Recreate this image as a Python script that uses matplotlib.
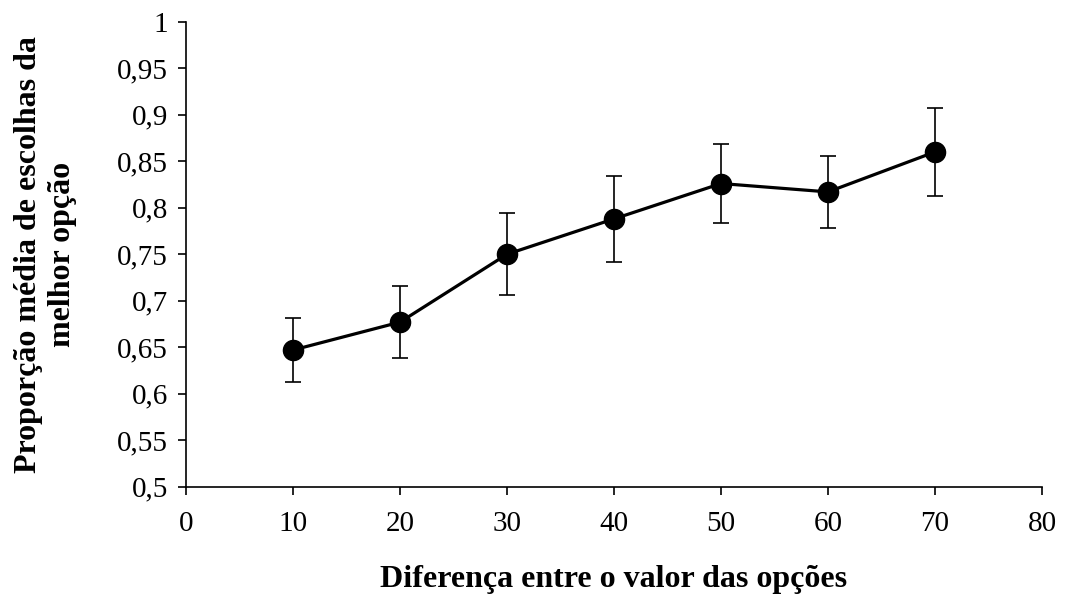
import matplotlib.pyplot as plt
from matplotlib.ticker import FuncFormatter

# diferença entre o valor das opções e proporção média de escolhas
diferenca = [10, 20, 30, 40, 50, 60, 70]
proporcao = [0.647, 0.677, 0.750, 0.788, 0.826, 0.817, 0.860]
erro = [0.0345, 0.039, 0.044, 0.046, 0.042, 0.0385, 0.047]

plt.rcParams['font.family'] = ['Liberation Serif', 'DejaVu Serif']

fig = plt.figure(figsize=(10.82, 5.95), dpi=100)
ax = fig.add_axes([0.172, 0.182, 0.791, 0.7815])

ax.errorbar(diferenca, proporcao, yerr=erro, color='black', lw=2.3,
            marker='o', markersize=14.5, elinewidth=1.2, capsize=5.5,
            capthick=1.2, zorder=3)

ax.set_xlim(0, 80)
ax.set_ylim(0.5, 1)
ax.set_xticks(range(0, 81, 10))
ax.set_yticks([0.5 + 0.05 * i for i in range(11)])

# vírgula como separador decimal
ax.yaxis.set_major_formatter(FuncFormatter(lambda v, p: ('%g' % round(v, 2)).replace('.', ',')))

for s in ['top', 'right']:
    ax.spines[s].set_visible(False)
for s in ['left', 'bottom']:
    ax.spines[s].set_linewidth(1.2)

ax.tick_params(axis='both', labelsize=21, length=6, width=1.2, direction='out')
ax.tick_params(axis='x', pad=11.5)
ax.tick_params(axis='y', pad=7)

ax.set_xlabel('Diferença entre o valor das opções', fontsize=23, fontweight='bold', labelpad=20)
ax.set_ylabel('Proporção média de escolhas da\nmelhor opção', fontsize=23, fontweight='bold',
              labelpad=29, linespacing=1.2)

fig.savefig('out.png', dpi=100)
